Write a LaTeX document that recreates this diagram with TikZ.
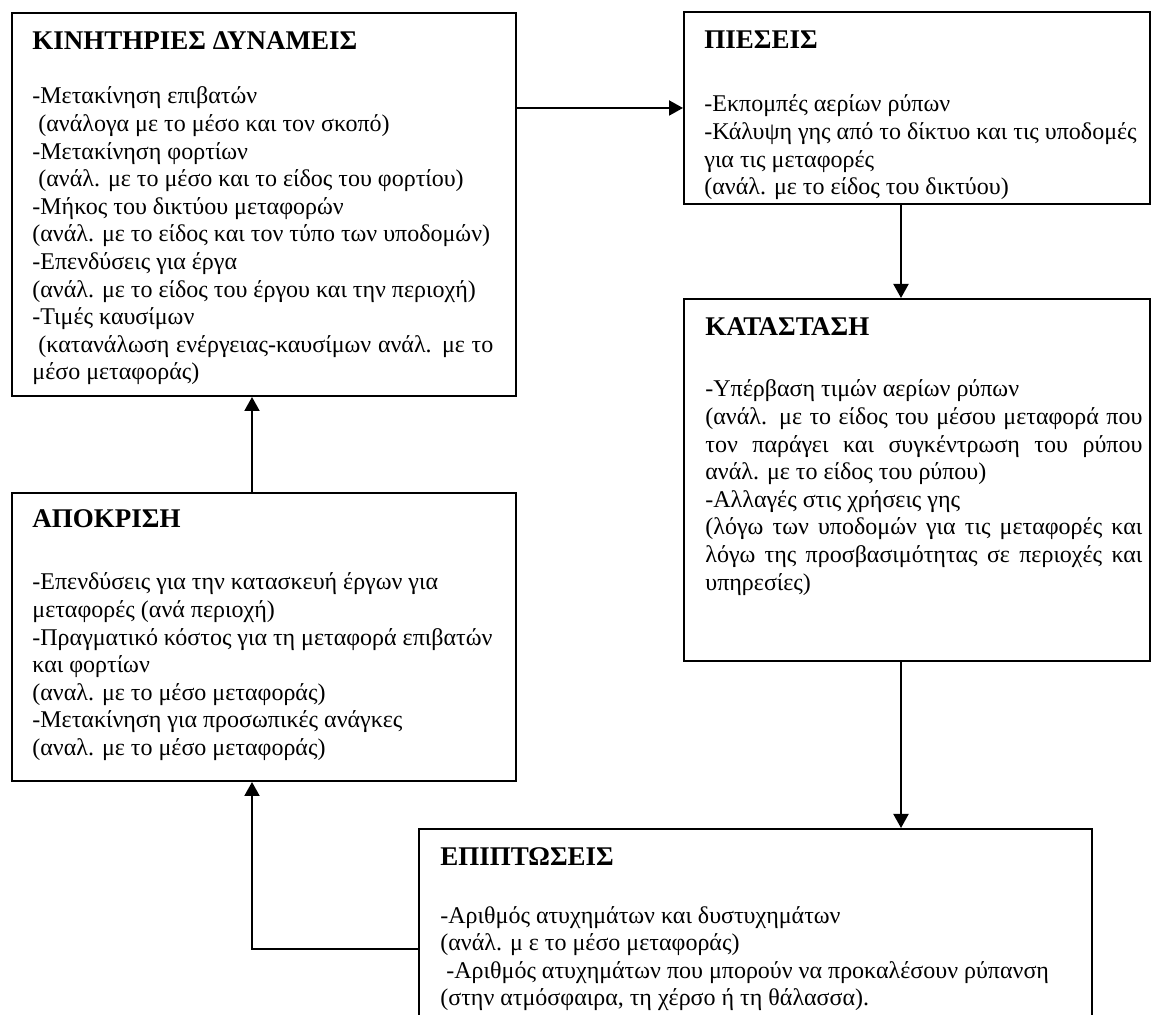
\documentclass[tikz,border=0pt]{standalone}
\usepackage{fontspec}
\setmainfont{Liberation Serif}
\usetikzlibrary{arrows.meta,fit}

\begin{document}
% a block of lines, one paragraph per line; the baseline is that of the first line
\newcommand\linesbox[2]{\vtop{\hsize=#1\relax\parindent=0pt\parskip=0pt
  \rightskip=0pt plus 1fil\relax\baselineskip=13.8pt\relax #2}}
% a line whose word spaces are stretched to the full width
\newcommand\spreadline[1]{\makebox[\hsize][s]{#1}}
\newcommand\lead{\hspace*{3pt}}

\tikzset{
  panel/.style={draw=black, line width=1pt, inner sep=0pt, rectangle},
  paneltitle/.style={anchor=base west, inner sep=0pt,
    font=\fontsize{13.5pt}{15pt}\selectfont\bfseries},
  paneltext/.style={anchor=base west, inner sep=0pt,
    font=\fontsize{12pt}{13.8pt}\selectfont},
  flow/.style={draw=black, line width=1pt,
    -{Triangle[length=7pt,width=7.5pt]}},
}

\begin{tikzpicture}[x=0.5pt,y=-0.5pt]
\useasboundingbox (0,0) rectangle (1152,1015);
\clip (0,0) rectangle (1152,1015);

% routing columns and rows for the connectors
\coordinate (leftcol) at (252,0);
\coordinate (rightcol) at (901,0);
\coordinate (backrow) at (0,949);

% ---------- boxes ----------
\node[panel, fit={(12,13) (516,396)}] (kin) {};
\node[panel, fit={(684,12) (1150,204)}] (pies) {};
\node[panel, fit={(684,299) (1150,661)}] (kat) {};
\node[panel, fit={(12,493) (516,781)}] (apo) {};
\node[panel, fit={(419,829) (1092,1040)}] (epi) {};

% ---------- driving forces ----------
\node[paneltitle] (kin-title) at (32,50) {ΚΙΝΗΤΗΡΙΕΣ ΔΥΝΑΜΕΙΣ};
\node[paneltext] (kin-text) at (32,104) {\linesbox{230.5pt}{%
-Μετακίνηση επιβατών\par
\lead(ανάλογα με το μέσο και τον σκοπό)\par
-Μετακίνηση φορτίων\par
\lead(ανάλ. με το μέσο και το είδος του φορτίου)\par
-Μήκος του δικτύου μεταφορών\par
(ανάλ. με το είδος και τον τύπο των υποδομών)\par
-Επενδύσεις για έργα\par
(ανάλ. με το είδος του έργου και την περιοχή)\par
-Τιμές καυσίμων\par
\spreadline{\lead(κατανάλωση ενέργειας-καυσίμων ανάλ. με το}\par
μέσο μεταφοράς)}};

% ---------- pressures ----------
\node[paneltitle] (pies-title) at (704,49) {ΠΙΕΣΕΙΣ};
\node[paneltext] (pies-text) at (704,112) {\linesbox{220pt}{%
-Εκπομπές αερίων ρύπων\par
-Κάλυψη γης από το δίκτυο και τις υποδομές\par
για τις μεταφορές\par
(ανάλ. με το είδος του δικτύου)}};

% ---------- state ----------
\node[paneltitle] (kat-title) at (705,336) {ΚΑΤΑΣΤΑΣΗ};
\node[paneltext] (kat-text) at (705,397) {\linesbox{218.5pt}{%
-Υπέρβαση τιμών αερίων ρύπων\par
\spreadline{(ανάλ. με το είδος του μέσου μεταφορά που}\par
\spreadline{τον παράγει και συγκέντρωση του ρύπου}\par
ανάλ. με το είδος του ρύπου)\par
-Αλλαγές στις χρήσεις γης\par
\spreadline{(λόγω των υποδομών για τις μεταφορές και}\par
\spreadline{λόγω της προσβασιμότητας σε περιοχές και}\par
υπηρεσίες)}};

% ---------- response ----------
\node[paneltitle] (apo-title) at (32,528) {ΑΠΟΚΡΙΣΗ};
\node[paneltext] (apo-text) at (32,590) {\linesbox{230pt}{%
-Επενδύσεις για την κατασκευή έργων για\par
μεταφορές (ανά περιοχή)\par
-Πραγματικό κόστος για τη μεταφορά επιβατών\par
και φορτίων\par
(αναλ. με το μέσο μεταφοράς)\par
-Μετακίνηση για προσωπικές ανάγκες\par
(αναλ. με το μέσο μεταφοράς)}};

% ---------- impacts ----------
\node[paneltitle] (epi-title) at (440,865) {ΕΠΙΠΤΩΣΕΙΣ};
\node[paneltext] (epi-text) at (440,923) {\linesbox{320pt}{%
-Αριθμός ατυχημάτων και δυστυχημάτων\par
(ανάλ. μ ε το μέσο μεταφοράς)\par
\lead-Αριθμός ατυχημάτων που μπορούν να προκαλέσουν ρύπανση\par
(στην ατμόσφαιρα, τη χέρσο ή τη θάλασσα).}};

% ---------- connectors ----------
\draw[flow] (kin.east |- pies.west) -- (pies.west);
\draw[flow] (pies.south -| rightcol) -- (kat.north -| rightcol);
\draw[flow] (kat.south -| rightcol) -- (epi.north -| rightcol);
\draw[flow] (epi.west |- backrow) -| (apo.south -| leftcol);
\draw[flow] (apo.north -| leftcol) -- (kin.south -| leftcol);
\end{tikzpicture}
\end{document}
